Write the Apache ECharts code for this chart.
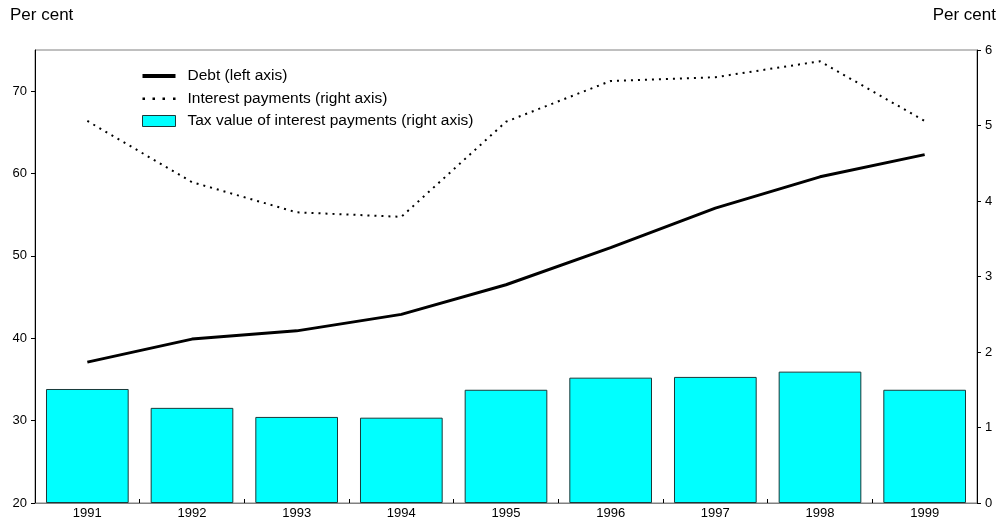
<!DOCTYPE html>
<html><head><meta charset="utf-8">
<script src="https://cdn.jsdelivr.net/npm/echarts@6/dist/echarts.min.js"></script>
<style>html,body{margin:0;padding:0;background:#fff}#c{width:1004px;height:523px}</style>
</head><body><div id="c"></div>
<script>
const years = ['1991','1992','1993','1994','1995','1996','1997','1998','1999'];
const debt = [37.1, 39.9, 40.9, 42.9, 46.5, 51.0, 55.8, 59.6, 62.3];
const interest = [5.06, 4.25, 3.85, 3.79, 5.05, 5.59, 5.64, 5.85, 5.06];
const taxValue = [1.51, 1.26, 1.14, 1.13, 1.50, 1.66, 1.67, 1.74, 1.50];
const leftTitle = 'Per cent', rightTitle = 'Per cent';

const FONT = 'Liberation Sans, Arial, sans-serif';
const ICON_SOLID = 'path://M0,0 M0,5H33V9H0Z M33,14';
const ICON_DOTS = 'path://M0,0 M0,6H2.5V8.5H0Z M10,6H12.5V8.5H10Z M20,6H22.5V8.5H20Z M30.5,6H33V8.5H30.5Z M33,14';
const ICON_BOX = 'path://M0,0 M0,1.5H33V12.5H0Z M33,14';
const chart = echarts.init(document.getElementById('c'), null, {renderer:'canvas'});
chart.setOption({
  animation:false,
  textStyle:{fontFamily:FONT},
  graphic:[
    {type:'text', left:10, top:7, style:{text:leftTitle, font:'17px '+FONT, fill:'#000'}},
    {type:'text', right:8, top:7, style:{text:rightTitle, font:'17px '+FONT, fill:'#000'}}
  ],
  grid:{left:35, right:27, top:50, bottom:20, show:true, borderColor:'#808080', borderWidth:1},
  legend:{
    orient:'vertical', left:137, top:63, itemWidth:33, itemHeight:14, itemGap:6.5,
    textStyle:{fontSize:15.5, color:'#000', fontFamily:FONT, padding:[0,0,0,7]},
    data:[
      {name:'Debt (left axis)', icon:ICON_SOLID, itemStyle:{color:'#000', borderWidth:0}},
      {name:'Interest payments (right axis)', icon:ICON_DOTS, itemStyle:{color:'#000', borderWidth:0}},
      {name:'Tax value of interest payments (right axis)', icon:ICON_BOX, itemStyle:{color:'#00FFFF', borderColor:'#1a3a3a', borderWidth:1}}
    ]
  },
  xAxis:{
    type:'category', data:years,
    axisLine:{lineStyle:{color:'#808080', width:1}},
    axisTick:{show:true, inside:true, length:4, alignWithLabel:false, lineStyle:{color:'#000'}},
    axisLabel:{color:'#000', fontSize:13, margin:4, fontFamily:FONT}
  },
  yAxis:[
    {type:'value', min:20, max:75, interval:10, position:'left',
     axisLine:{show:true, lineStyle:{color:'#000'}},
     axisTick:{show:true, length:4, lineStyle:{color:'#000'}},
     axisLabel:{color:'#000', fontSize:13, margin:8, showMaxLabel:false, fontFamily:FONT},
     splitLine:{show:false}},
    {type:'value', min:0, max:6, interval:1, position:'right',
     axisLine:{show:true, lineStyle:{color:'#000'}},
     axisTick:{show:true, length:4, lineStyle:{color:'#000'}},
     axisLabel:{color:'#000', fontSize:13, margin:8, fontFamily:FONT},
     splitLine:{show:false}}
  ],
  series:[
    {name:'Tax value of interest payments (right axis)', type:'bar', yAxisIndex:1, data:taxValue,
     barCategoryGap:'21%',
     itemStyle:{color:'#00FFFF', borderColor:'#1a3a3a', borderWidth:1}},
    {name:'Debt (left axis)', type:'line', yAxisIndex:0, data:debt, symbol:'none',
     lineStyle:{color:'#000', width:3}, itemStyle:{color:'#000'}},
    {name:'Interest payments (right axis)', type:'line', yAxisIndex:1, data:interest, symbol:'none',
     lineStyle:{color:'#000', width:2, type:[2,5]}, itemStyle:{color:'#000'}}
  ]
});
</script></body></html>
